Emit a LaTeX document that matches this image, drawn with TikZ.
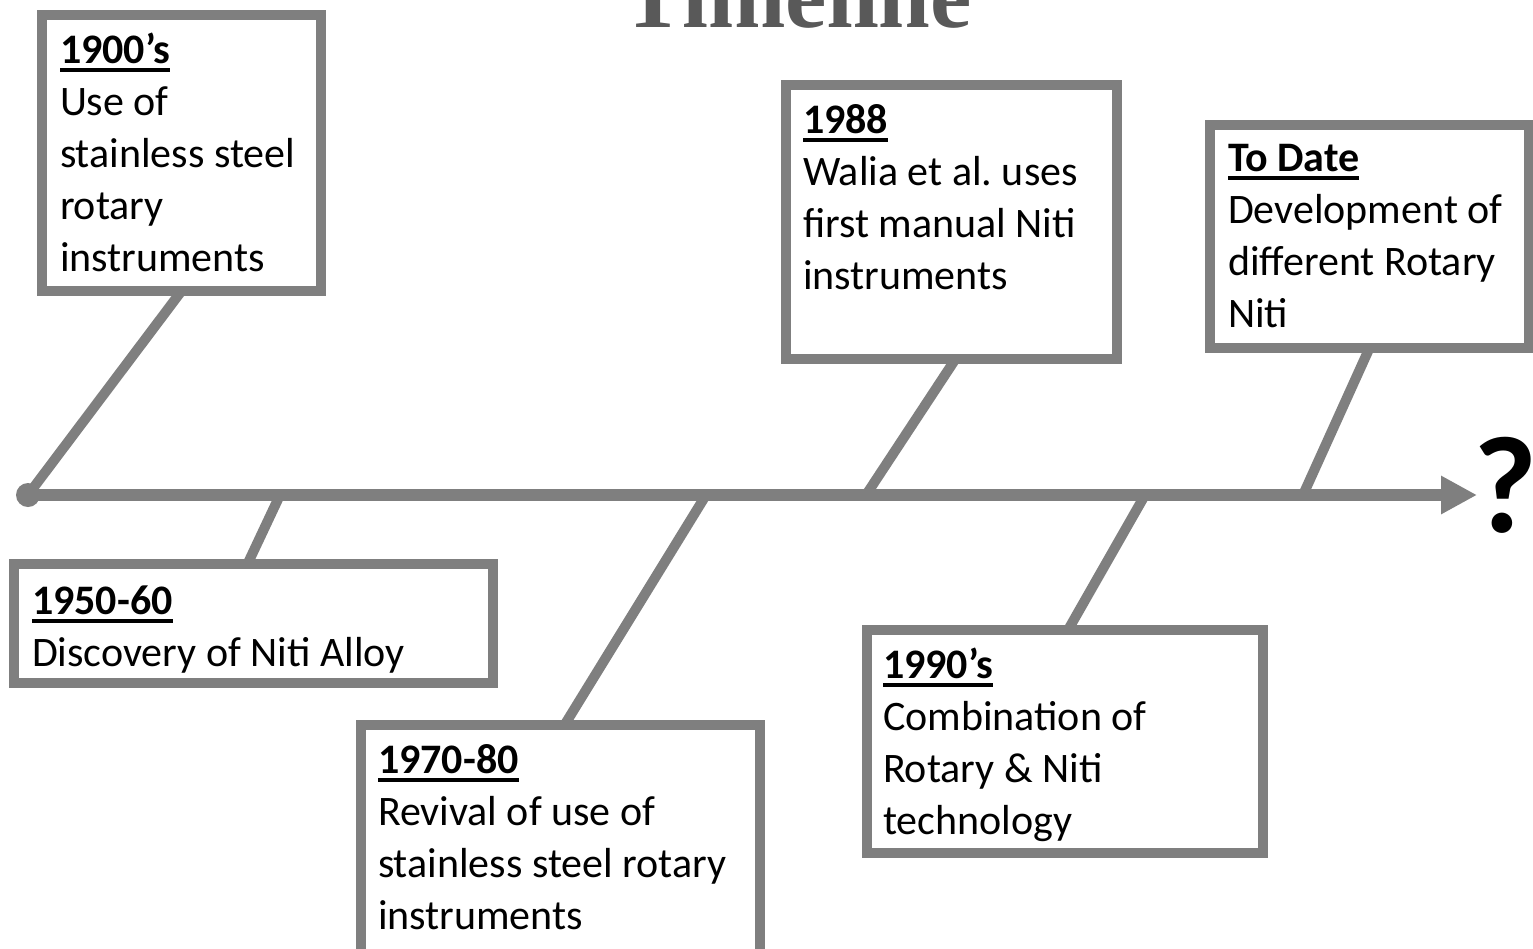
\documentclass[tikz,border=0pt]{standalone}
\usepackage{fontspec}
\setmainfont{Carlito}
\newfontfamily\titlefont{Liberation Serif}
\usetikzlibrary{arrows.meta}
\definecolor{linegray}{HTML}{7F7F7F}
\definecolor{titlegray}{HTML}{595959}
\frenchspacing
\newcommand{\ulhead}[1]{\leavevmode\setbox0\hbox{\bfseries #1}\rlap{\rule[-8.5pt]{\wd0}{3.5pt}}\box0}
\newcommand{\boxtext}[1]{\parbox[t]{600pt}{\fontsize{42}{52}\selectfont\raggedright #1}}
\begin{document}
\begin{tikzpicture}[x=1pt,y=-1pt,
  box/.style={draw=linegray, line width=10pt, fill=white, rectangle, inner sep=0pt, outer sep=0pt, anchor=north west},
  txt/.style={anchor=base west, inner sep=0pt, outer sep=0pt, text=black},
  conn/.style={draw=linegray, line width=10pt},
  axis/.style={draw=linegray, line width=12pt, -{Triangle[length=36pt,width=36pt]}}
]
\useasboundingbox (0,0) rectangle (1533,948);
\fill[white] (0,0) rectangle (1533,948);

% title
\node[anchor=base, inner sep=0pt, text=titlegray, font=\titlefont\bfseries\fontsize{93}{100}\selectfont] (title) at (797,27) {Timeline};

% axis coordinates
\coordinate (start) at (28,495);
\coordinate (tip) at (1477,495);
\coordinate (a2) at (280,495);
\coordinate (a3) at (706,495);
\coordinate (a4) at (866,495);
\coordinate (a5) at (1145,495);
\coordinate (a6) at (1303,495);

% boxes
\node[box, minimum width=279pt, minimum height=276pt] (b1) at (42,15) {};
\node[box, minimum width=479pt, minimum height=119pt] (b2) at (14,564) {};
\node[box, minimum width=399pt, minimum height=240pt] (b3) at (361,725) {};
\node[box, minimum width=331pt, minimum height=274pt] (b4) at (786,85) {};
\node[box, minimum width=396pt, minimum height=223pt] (b5) at (867,630) {};
\node[box, minimum width=319pt, minimum height=223pt] (b6) at (1210,125) {};

% axis and connectors
\draw[axis] (start) -- (tip);
\draw[conn] (b1.south) -- (start);
\draw[conn] ([xshift=-6pt]b2.north) -- (a2);
\draw[conn] ([xshift=4pt]b3.north) -- (a3);
\draw[conn] ([xshift=4pt]b4.south) -- (a4);
\draw[conn] ([xshift=3pt]b5.north) -- (a5);
\draw[conn] (b6.south) -- (a6);
\node[circle, fill=linegray, minimum size=24pt, inner sep=0pt] (dot) at (start) {};

% texts
\node[txt] (t1) at (60,63) {\boxtext{\ulhead{1900’s}\\Use of\\stainless steel\\rotary\\instruments}};
\node[txt] (t2) at (32,614) {\boxtext{\ulhead{1950-60}\\Discovery of Niti Alloy}};
\node[txt] (t3) at (378,773) {\boxtext{\ulhead{1970-80}\\Revival of use of\\stainless steel rotary\\instruments}};
\node[txt] (t4) at (803,133) {\boxtext{\ulhead{1988}\\Walia et al. uses\\first manual Niti\\instruments}};
\node[txt] (t5) at (883,678) {\boxtext{\ulhead{1990’s}\\Combination of\\Rotary \& Niti\\technology}};
\node[txt] (t6) at (1228,171) {\boxtext{\ulhead{To Date}\\Development of\\different Rotary\\Niti}};

% question mark
\node[anchor=base, inner sep=0pt, font=\bfseries\fontsize{138}{150}\selectfont] (q) at (1505,532) {?};
\end{tikzpicture}
\end{document}
